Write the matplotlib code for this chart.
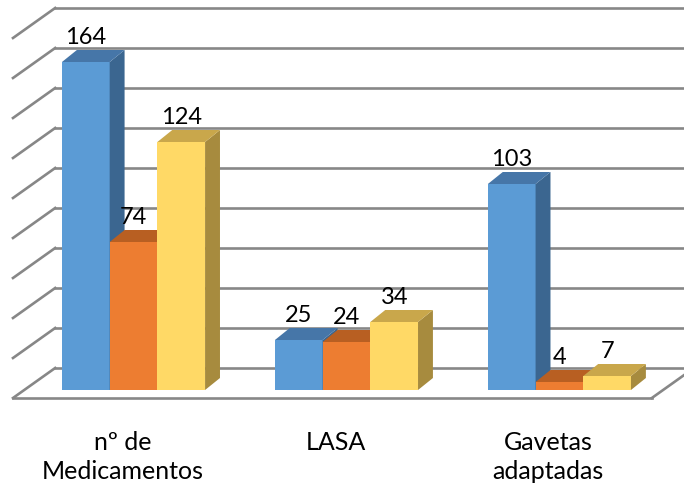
import matplotlib.pyplot as plt
from matplotlib.patches import Polygon

categories = ['nº de\nMedicamentos', 'LASA', 'Gavetas\nadaptadas']
serie1 = [164, 25, 103]
serie2 = [74, 24, 4]
serie3 = [124, 34, 7]
gridlines = list(range(0, 181, 20))

series = [serie1, serie2, serie3]
front_colors = ['#5B9BD5', '#ED7D31', '#FFD966']
top_colors = ['#4676A8', '#B85F22', '#C9A74B']
side_colors = ['#3B6690', '#A8561E', '#A78B3E']

# oblique "3d" offsets (x in category units, y in value units)
bar_w = 0.224
depth = (0.070, 6)
floor_front = (-0.052, -4)
back_wall = (0.146, 11)
wall_left = -0.514
wall_right = 2.486
grid_color = '#878787'

fig = plt.figure(figsize=(6.84, 4.87), dpi=100)
ax = fig.add_axes([0, 0, 1, 1])
ax.set_xlim(-0.627, 2.585)
ax.set_ylim(-48.5, 195)
ax.axis('off')

# walls: back wall gridlines and left wall diagonals
for v in gridlines:
    ax.plot([wall_left + back_wall[0], wall_right + back_wall[0] + 0.5],
            [v + back_wall[1], v + back_wall[1]], color=grid_color, lw=1.9, zorder=1)
    ax.plot([wall_left + floor_front[0], wall_left + back_wall[0]],
            [v + floor_front[1], v + back_wall[1]], color=grid_color, lw=1.9, zorder=1)

# floor front edge and right diagonal
ax.plot([wall_left + floor_front[0], wall_right + floor_front[0]],
        [floor_front[1], floor_front[1]], color=grid_color, lw=1.9, zorder=1)
ax.plot([wall_right + floor_front[0], wall_right + back_wall[0]],
        [floor_front[1], back_wall[1]], color=grid_color, lw=1.9, zorder=1)

dx, dy = depth
z = 2
for i in range(len(categories)):
    for s, vals in enumerate(series):
        v = vals[i]
        x0 = i + (s - 1.5) * bar_w
        x1 = x0 + bar_w
        ax.add_patch(Polygon([(x0, 0), (x1, 0), (x1, v), (x0, v)],
                             closed=True, fc=front_colors[s], ec='none', zorder=z))
        ax.add_patch(Polygon([(x1, 0), (x1 + dx, dy), (x1 + dx, v + dy), (x1, v)],
                             closed=True, fc=side_colors[s], ec='none', zorder=z))
        ax.add_patch(Polygon([(x0, v), (x0 + dx, v + dy), (x1 + dx, v + dy), (x1, v)],
                             closed=True, fc=top_colors[s], ec='none', zorder=z))
        ax.text((x0 + x1) / 2, v + dy + 3, str(v), ha='center', va='baseline',
                fontsize=17, family='Lato', color='black', zorder=10)
        z += 1
    ax.text(i + floor_front[0], -20.5, categories[i], ha='center', va='top',
            fontsize=18, family='Lato', color='black', linespacing=1.3)

fig.savefig('out.png', dpi=100)
